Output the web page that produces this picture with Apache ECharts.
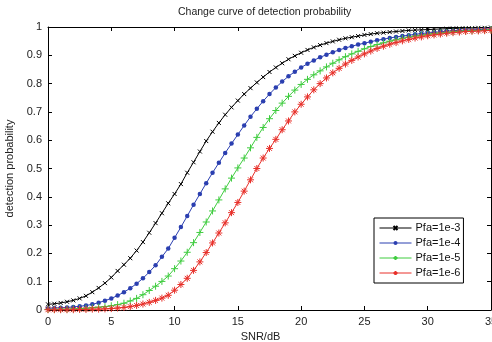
<!DOCTYPE html>
<html>
<head>
<meta charset="utf-8">
<script src="https://cdn.jsdelivr.net/npm/echarts@6/dist/echarts.min.js"></script>
<style>html,body{margin:0;padding:0;background:#fff;}#c{width:492px;height:342px;}</style>
</head>
<body>
<div id="c"></div>
<script>
var snr = [0,0.5,1,1.5,2,2.5,3,3.5,4,4.5,5,5.5,6,6.5,7,7.5,8,8.5,9,9.5,10,10.5,11,11.5,12,12.5,13,13.5,14,14.5,15,15.5,16,16.5,17,17.5,18,18.5,19,19.5,20,20.5,21,21.5,22,22.5,23,23.5,24,24.5,25,25.5,26,26.5,27,27.5,28,28.5,29,29.5,30,30.5,31,31.5,32,32.5,33,33.5,34,34.5,35];
var pfa3 = [0.020,0.022,0.025,0.029,0.034,0.041,0.050,0.063,0.078,0.095,0.115,0.138,0.160,0.183,0.210,0.240,0.273,0.307,0.342,0.377,0.410,0.445,0.485,0.522,0.560,0.597,0.630,0.661,0.690,0.716,0.740,0.763,0.784,0.804,0.823,0.841,0.857,0.872,0.886,0.898,0.909,0.919,0.928,0.936,0.943,0.949,0.955,0.960,0.964,0.968,0.972,0.975,0.978,0.980,0.982,0.984,0.986,0.988,0.989,0.990,0.991,0.992,0.993,0.994,0.995,0.995,0.996,0.996,0.997,0.997,0.998];
var pfa4 = [0.006,0.007,0.008,0.009,0.011,0.013,0.016,0.020,0.026,0.033,0.041,0.051,0.063,0.077,0.093,0.112,0.134,0.158,0.188,0.217,0.255,0.293,0.332,0.372,0.410,0.448,0.485,0.520,0.555,0.588,0.620,0.652,0.683,0.711,0.738,0.763,0.786,0.807,0.826,0.842,0.857,0.870,0.882,0.893,0.902,0.911,0.919,0.926,0.932,0.938,0.943,0.948,0.953,0.957,0.961,0.965,0.968,0.971,0.974,0.977,0.979,0.981,0.983,0.985,0.987,0.988,0.989,0.990,0.991,0.992,0.993];
var pfa5 = [0.002,0.002,0.003,0.003,0.004,0.005,0.006,0.008,0.010,0.012,0.015,0.019,0.024,0.032,0.041,0.054,0.069,0.084,0.101,0.120,0.146,0.173,0.204,0.238,0.274,0.311,0.350,0.389,0.428,0.466,0.502,0.537,0.573,0.610,0.645,0.676,0.705,0.731,0.755,0.777,0.797,0.815,0.831,0.845,0.859,0.872,0.884,0.895,0.905,0.914,0.923,0.931,0.938,0.944,0.950,0.955,0.960,0.964,0.968,0.971,0.974,0.977,0.979,0.981,0.983,0.985,0.986,0.987,0.988,0.989,0.990];
var pfa6 = [0.001,0.001,0.001,0.001,0.001,0.002,0.002,0.003,0.003,0.004,0.005,0.007,0.009,0.012,0.016,0.021,0.027,0.034,0.042,0.052,0.070,0.090,0.112,0.140,0.170,0.203,0.237,0.272,0.308,0.344,0.380,0.420,0.460,0.500,0.537,0.571,0.603,0.637,0.668,0.700,0.727,0.753,0.778,0.800,0.820,0.838,0.854,0.869,0.882,0.894,0.905,0.915,0.924,0.932,0.939,0.945,0.951,0.956,0.961,0.965,0.969,0.972,0.975,0.978,0.980,0.982,0.984,0.985,0.986,0.987,0.988];
var seriesNames = ['Pfa=1e-3','Pfa=1e-4','Pfa=1e-5','Pfa=1e-6'];
var xTicks = [0,5,10,15,20,25,30,35];
var yTicks = [0,0.1,0.2,0.3,0.4,0.5,0.6,0.7,0.8,0.9,1];

function pairs(ys){ return snr.map(function(x,i){ return [x, ys[i]]; }); }
var FONT = 'Liberation Sans';
var chart = echarts.init(document.getElementById('c'), null, {renderer:'canvas'});
var axisCommon = {
  axisLine:{show:true, onZero:false, lineStyle:{color:'#000', width:1}},
  axisTick:{show:true, inside:true, length:4, lineStyle:{color:'#000'}},
  splitLine:{show:false}
};
function mk(name, ys, color, symbol, size, filled){
  return {
    name:name, type:'line', data:pairs(ys), showAllSymbol:true,
    symbol:symbol, symbolSize:size,
    lineStyle:{color:color, width:1},
    itemStyle:{color: color, borderColor:color, borderWidth: filled ? 0 : 1},
    emphasis:{disabled:true}, animation:false
  };
}
chart.setOption({
  animation:false,
  backgroundColor:'#fff',
  title:{text:'Change curve of detection probability', left:173, top:2,
    textStyle:{fontFamily:FONT, fontSize:10.5, fontWeight:'normal', color:'#222'}},
  grid:{left:48, right:1, top:27, bottom:32, containLabel:false, outerBoundsMode:'none'},
  legend:{
    orient:'vertical', left:374, top:218, data:seriesNames,
    backgroundColor:'#fff', borderColor:'#000', borderWidth:1,
    padding:[4,3,4,5], itemWidth:32, itemHeight:5, itemGap:3,
    lineStyle:{width:1},
    textStyle:{fontFamily:FONT, fontSize:11, color:'#111', lineHeight:12, padding:[0,0,0,-1]}
  },
  xAxis:[
    Object.assign({type:'value', min:0, max:35, interval:5, position:'bottom',
      name:'SNR/dB', nameLocation:'middle', nameGap:17,
      nameTextStyle:{fontFamily:FONT, fontSize:11, color:'#222', padding:[0,0,0,-18]},
      axisLabel:{fontFamily:FONT, fontSize:11, color:'#222', margin:6,
        formatter:function(v){ return xTicks.indexOf(v)>=0 ? String(v) : ''; }}}, axisCommon),
    Object.assign({type:'value', min:0, max:35, interval:5, position:'top',
      axisLabel:{show:false}}, axisCommon)
  ],
  yAxis:[
    Object.assign({type:'value', min:0, max:1, interval:0.1, position:'left',
      name:'detection probability', nameLocation:'middle', nameGap:25, nameRotate:90,
      nameTextStyle:{fontFamily:FONT, fontSize:11, color:'#222'},
      axisLabel:{fontFamily:FONT, fontSize:11, color:'#222', margin:6,
        formatter:function(v){ var r=Math.round(v*10)/10; return yTicks.indexOf(r)>=0 ? String(r) : ''; }}}, axisCommon),
    Object.assign({type:'value', min:0, max:1, interval:0.1, position:'right',
      axisLabel:{show:false}}, axisCommon)
  ],
  series:[
    mk(seriesNames[0], pfa3, '#000000', 'path://M0,0L10,10M10,0L0,10', 4, false),
    mk(seriesNames[1], pfa4, '#2b3fb0', 'circle', 4.5, true),
    mk(seriesNames[2], pfa5, '#3fcc3f', 'path://M5,0L5,10M0,5L10,5', 7, false),
    mk(seriesNames[3], pfa6, '#e8302a', 'path://M5,0L5,10M0,5L10,5M1.5,1.5L8.5,8.5M8.5,1.5L1.5,8.5', 7, false)
  ]
});
</script>
</body>
</html>
